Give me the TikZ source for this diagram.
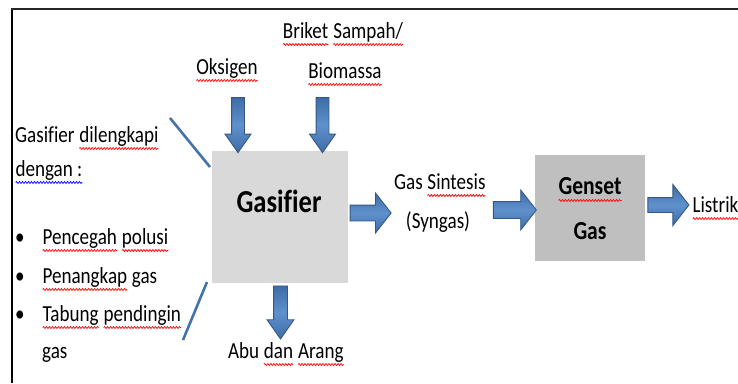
\documentclass[tikz,border=0pt]{standalone}
\usepackage{fontspec}
\setmainfont{Carlito}[FakeStretch=0.83, Ligatures=NoCommon]
\usetikzlibrary{shapes.arrows,calc,decorations.pathmorphing}

\definecolor{abu}{RGB}{217,217,217}
\definecolor{abutua}{RGB}{191,191,191}
\definecolor{biru}{RGB}{62,108,166}
\definecolor{birumuda}{RGB}{95,145,205}
\definecolor{birutepi}{RGB}{52,88,132}
\definecolor{birugaris}{RGB}{68,114,170}

%garis bergelombang ejaan
\newcommand\salah[2][red]{\tikz[baseline=(kata.base)]{\node[inner sep=0pt, outer sep=0pt, anchor=base] (kata) {#2};
  \draw[#1, line width=0.7pt, decorate, decoration={snake, amplitude=1pt, segment length=3pt}]
    ($(kata.base west)+(0pt,-6.5pt)$) -- ($(kata.base east)+(0pt,-6.5pt)$);}}

\tikzset{
  teks/.style={font=\fontsize{23}{27}\selectfont, inner sep=0pt, anchor=base},
  kotak/.style={inner sep=0pt, outer sep=0pt},
  panah/.style={single arrow, draw=birutepi, line width=0.9pt,
    top color=biru, bottom color=biru, middle color=birumuda,
    inner xsep=0pt, outer sep=0pt, single arrow head indent=0pt},
  tegak/.style={inner ysep=6pt, single arrow head extend=6.5pt, single arrow tip angle=70},
  datar/.style={inner ysep=7.5pt, single arrow head extend=12pt, single arrow tip angle=104},
  garis/.style={draw=birugaris, line width=2.6pt}
}

%panah blok dari #2 ke #3
\newcommand\panahblok[3][]{%
  \path let \p1=(#2), \p2=(#3), \n1={atan2(\y2-\y1,\x2-\x1)}, \n2={veclen(\x2-\x1,\y2-\y1)} in
    node[panah, minimum height=\n2, rotate=\n1, #1] at ($(#2)!0.5!(#3)$) {};}

\begin{document}
\begin{tikzpicture}[x=1pt,y=-1pt]
  \useasboundingbox (0,0) rectangle (738,383);
  %bingkai
	\draw[line width=2.5pt] (12,383) -- (12,9);
	\draw[line width=1.8pt,black!85] (11,9) -- (738,9);

  %kotak
	\node[kotak, fill=abu, minimum width=136pt, minimum height=132pt] (gasifier) at (280,217) {};
	\node[kotak, fill=abutua, minimum width=110pt, minimum height=106pt] (genset) at (590,208) {};
	\node[teks, font=\fontsize{32}{36}\selectfont\bfseries] (judul) at (279,212) {Gasifier};
	\node[teks, font=\fontsize{26}{30}\selectfont\bfseries] (genset1) at (590,194) {\salah{Genset}};
	\node[teks, font=\fontsize{26}{30}\selectfont\bfseries] (genset2) at (590,239) {Gas};

  %masukan di atas
	\node[teks] (briket) at (343,38) {\salah{Briket} \salah{Sampah/}};
	\node[teks] (oksigen) at (227,74) {\salah{Oksigen}};
	\node[teks] (biomassa) at (345,78) {\salah{Biomassa}};

  %keterangan kiri
	\node[teks, anchor=base west] (info1) at (15,142) {Gasifier \salah{dilengkapi}};
	\node[teks, anchor=base west] (info2) at (15,176) {\salah[blue]{dengan :}};
	\foreach \y/\isi [count=\i] in {244/{\salah{Pencegah} \salah{polusi}}, 283/{\salah{Penangkap} gas}, 321/{\salah{Tabung} \salah{pendingin}}}{
	  \node[teks] (titik\i) at (20,\y) {\textbullet};
	  \node[teks, anchor=base west] (item\i) at (42,\y) {\isi};
	}
	\node[teks, anchor=base west] (item4) at (42,358) {gas};

  %keluaran
	\node[teks] (abu) at (286,358) {Abu \salah{dan} \salah{Arang}};
	\node[teks] (syngas1) at (440,189) {Gas \salah{Sintesis}};
	\node[teks] (syngas2) at (438,228) {(Syngas)};
	\node[teks, anchor=base west] (listrik) at (692,212) {\salah{Listrik}};

  %garis keterangan
	\coordinate (ga) at (170,118);
	\coordinate (gb) at (210,167);
	\coordinate (gc) at (207,282);
	\coordinate (gd) at (183,340);
	\draw[garis] (ga) -- (gb);
	\draw[garis] (gc) -- (gd);

  %ujung panah
	\coordinate (oks-a) at (238,93);    \coordinate (oks-b) at (238,148);
	\coordinate (bio-a) at (322.5,93);  \coordinate (bio-b) at (322.5,148);
	\coordinate (abu-a) at (280.5,281); \coordinate (abu-b) at (280.5,334);
	\coordinate (gas-a) at (347,213);   \coordinate (gas-b) at (388,213);
	\coordinate (syn-a) at (490,210);   \coordinate (syn-b) at (533,210);
	\coordinate (lis-a) at (645,205);   \coordinate (lis-b) at (686,205);

	\panahblok[tegak]{oks-a}{oks-b}
	\panahblok[tegak]{bio-a}{bio-b}
	\panahblok[tegak, inner ysep=6.5pt]{abu-a}{abu-b}
	\panahblok[datar]{gas-a}{gas-b}
	\panahblok[datar, inner ysep=8pt, single arrow head extend=11.5pt]{syn-a}{syn-b}
	\panahblok[datar, inner ysep=7pt, single arrow head extend=13pt]{lis-a}{lis-b}
\end{tikzpicture}
\end{document}
